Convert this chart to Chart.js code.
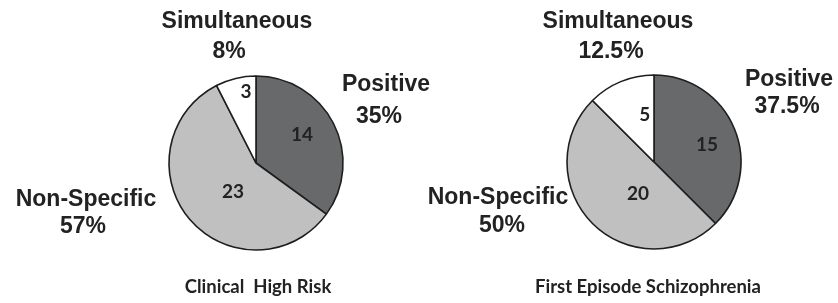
<!DOCTYPE html>
<html>
<head>
<meta charset="utf-8">
<script src="https://cdn.jsdelivr.net/npm/chart.js@4/dist/chart.umd.min.js"></script>
<style>
  html, body { margin: 0; padding: 0; background: #fff; }
  #wrap { position: relative; width: 838px; height: 303px; overflow: hidden; }
  canvas { position: absolute; top: 0; left: 0; }
</style>
</head>
<body>
<div id="wrap">
  <canvas id="c1" width="838" height="303"></canvas>
  <canvas id="c2" width="838" height="303"></canvas>
</div>
<script>
// ---- data ----
const categories = ["Positive", "Non-Specific", "Simultaneous"];
const chrCounts = [14, 23, 3];
const chrPercents = ["35%", "57%", "8%"];
const fesCounts = [15, 20, 5];
const fesPercents = ["37.5%", "50%", "12.5%"];
const groupTitles = ["Clinical  High Risk", "First Episode Schizophrenia"];

const sliceColors = ["#68696b", "#c0c0c0", "#ffffff"];
const labelFont = 'bold 23px "Liberation Sans", Arial, sans-serif';
const numFont = 'bold 19px Lato, "Open Sans", sans-serif';
const titleFont = 'bold 18.5px Lato, "Open Sans", sans-serif';

function makePlugin(cfg) {
  return {
    id: 'txt',
    afterDatasetsDraw(chart) {
      const ctx = chart.ctx;
      const meta = chart.getDatasetMeta(0);
      ctx.save();
      ctx.fillStyle = '#222';
      ctx.textAlign = 'center';
      ctx.textBaseline = 'middle';
      ctx.font = numFont;
      meta.data.forEach((arc, i) => {
        const p = arc.getProps(['x', 'y', 'startAngle', 'endAngle', 'outerRadius'], true);
        const mid = (p.startAngle + p.endAngle) / 2 + cfg.numAngle[i];
        const r = p.outerRadius * cfg.numRadius[i];
        ctx.fillText(String(chart.data.datasets[0].data[i]), p.x + Math.cos(mid) * r, p.y + Math.sin(mid) * r);
      });
      ctx.textBaseline = 'alphabetic';
      ctx.font = labelFont;
      cfg.labels.forEach((l, i) => {
        ctx.fillText(chart.data.labels[i], l[0], l[1]);
        ctx.fillText(cfg.percents[i], l[2], l[3]);
      });
      ctx.font = titleFont;
      ctx.fillText(cfg.title, cfg.titlePos[0], cfg.titlePos[1]);
      ctx.restore();
    }
  };
}

function makeChart(id, counts, pad, cfg) {
  return new Chart(document.getElementById(id), {
    type: 'pie',
    data: {
      labels: categories,
      datasets: [{
        data: counts,
        backgroundColor: sliceColors,
        borderColor: '#1e1e1e',
        borderWidth: 1.6
      }]
    },
    options: {
      responsive: false,
      animation: false,
      radius: 87,
      layout: { padding: pad },
      plugins: { legend: { display: false }, tooltip: { enabled: false }, title: { display: false } },
      events: []
    },
    plugins: [makePlugin(cfg)]
  });
}

makeChart('c1', chrCounts, { left: 166, right: 492, top: 73, bottom: 50 }, {
  percents: chrPercents,
  labels: [[386, 91, 379, 123], [86, 206, 83, 233], [237, 28, 229, 58]],
  numAngle: [-0.075, -0.19, 0.096],
  numRadius: [0.62, 0.425, 0.82],
  title: groupTitles[0],
  titlePos: [258, 293]
});

makeChart('c2', fesCounts, { left: 564, right: 94, top: 72, bottom: 51 }, {
  percents: fesPercents,
  labels: [[789, 86, 787, 113], [498, 204, 502, 232], [618, 28, 611, 58]],
  numAngle: [0.08, -0.32, 0.2],
  numRadius: [0.64, 0.41, 0.55],
  title: groupTitles[1],
  titlePos: [648, 293]
});
</script>
</body>
</html>
